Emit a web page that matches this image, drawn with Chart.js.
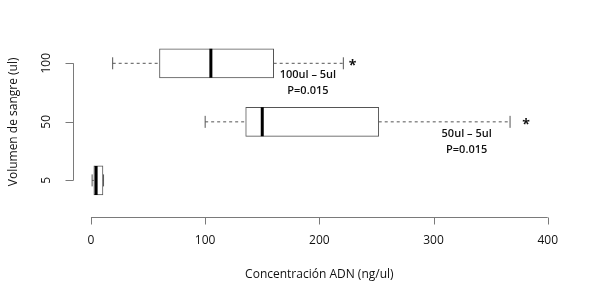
<!DOCTYPE html>
<html><head><meta charset="utf-8">
<script src="https://cdn.jsdelivr.net/npm/chart.js@4/dist/chart.umd.min.js"></script>
<style>html,body{margin:0;padding:0;background:#fff}#wrap{width:603px;height:300px;position:relative}</style>
</head><body><div id="wrap"><canvas id="c"></canvas></div>
<script>
// ---- data ----
const categories = ['100', '50', '5'];          // Volumen de sangre (ul)
const catPos = [3, 2, 1];                        // positions on the category axis (top to bottom)
const whiskerMin = [19, 100, 1];
const q1 = [60, 135.5, 2.5];
const median = [105, 150, 4.5];
const q3 = [160, 252, 10.5];
const whiskerMax = [221, 367, 11];
const xTickValues = [0, 100, 200, 300, 400];
const starX = [229, 381, null];                  // significance marker (*)
const annotLine1 = ['100ul – 5ul', '50ul – 5ul', null];
const annotLine2 = ['P=0.015', 'P=0.015', null];
const annotX = [190, 329, null];

const FONT = '"Open Sans", "Noto Sans", sans-serif';
const AXIS_COLOR = '#7a7a7a';
const BOX_COLOR = '#555555';

const datasets = [];
// medians
datasets.push({
  type: 'scatter', order: 0,
  data: categories.map((c, i) => ({x: median[i], y: catPos[i]})),
  pointStyle: 'line', rotation: 90, radius: 14.5, hoverRadius: 14.5,
  borderColor: '#000', borderWidth: 3, backgroundColor: '#000'
});
// whisker caps
datasets.push({
  type: 'scatter', order: 1,
  data: categories.flatMap((c, i) => [{x: whiskerMin[i], y: catPos[i]}, {x: whiskerMax[i], y: catPos[i]}]),
  pointStyle: 'line', rotation: 90, radius: 6, hoverRadius: 6,
  borderColor: BOX_COLOR, borderWidth: 1
});
// whiskers (dashed)
categories.forEach((c, i) => {
  [[whiskerMin[i], q1[i]], [q3[i], whiskerMax[i]]].forEach(seg => {
    datasets.push({
      type: 'line', order: 2,
      data: [{x: seg[0], y: catPos[i]}, {x: seg[1], y: catPos[i]}],
      borderColor: BOX_COLOR, borderWidth: 1, borderDash: [3, 3],
      pointRadius: 0, fill: false
    });
  });
});
// boxes
datasets.push({
  type: 'bar', order: 3, indexAxis: 'y',
  data: categories.map((c, i) => ({x: [q1[i], q3[i]], y: catPos[i]})),
  backgroundColor: '#ffffff', borderColor: BOX_COLOR, borderWidth: 1,
  borderSkipped: false, barThickness: 29
});

const rAxes = {
  id: 'rAxes',
  beforeDatasetsDraw(chart) {
    const {ctx, chartArea, scales: {x, y}} = chart;
    ctx.save();
    ctx.strokeStyle = AXIS_COLOR;
    ctx.lineWidth = 1;
    ctx.beginPath();
    // y axis
    const xl = Math.round(chartArea.left) + 0.5;
    const yTop = y.getPixelForValue(Math.max(...catPos));
    const yBot = y.getPixelForValue(Math.min(...catPos));
    ctx.moveTo(xl, yTop); ctx.lineTo(xl, yBot);
    catPos.forEach(v => { const p = Math.round(y.getPixelForValue(v)) + 0.5; ctx.moveTo(xl, p); ctx.lineTo(xl - 8, p); });
    // x axis
    const yb = Math.round(chartArea.bottom) + 0.5;
    ctx.moveTo(x.getPixelForValue(xTickValues[0]), yb);
    ctx.lineTo(x.getPixelForValue(xTickValues[xTickValues.length - 1]), yb);
    xTickValues.forEach(v => { const p = Math.round(x.getPixelForValue(v)) + 0.5; ctx.moveTo(p, yb); ctx.lineTo(p, yb + 7); });
    ctx.stroke();
    ctx.restore();
  },
  afterDatasetsDraw(chart) {
    const {ctx, scales: {x, y}} = chart;
    ctx.save();
    ctx.fillStyle = '#111';
    ctx.textAlign = 'center';
    ctx.textBaseline = 'middle';
    categories.forEach((c, i) => {
      const cy = y.getPixelForValue(catPos[i]);
      if (starX[i] !== null) {
        ctx.font = 'bold 14px ' + FONT;
        ctx.fillText('*', x.getPixelForValue(starX[i]), cy + 3);
      }
      if (annotLine1[i]) {
        ctx.font = '600 11px ' + FONT;
        ctx.fillText(annotLine1[i], x.getPixelForValue(annotX[i]), cy + 12);
        ctx.fillText(annotLine2[i], x.getPixelForValue(annotX[i]), cy + 28);
      }
    });
    ctx.restore();
  }
};

new Chart(document.getElementById('c'), {
  type: 'scatter',
  data: {datasets},
  options: {
    responsive: true, maintainAspectRatio: false, animation: false,
    layout: {padding: {top: 27, right: 37, bottom: 0, left: 0}},
    plugins: {legend: {display: false}, tooltip: {enabled: false}},
    events: [],
    scales: {
      x: {
        type: 'linear', min: -16, max: 416, offset: false,
        afterBuildTicks: s => { s.ticks = xTickValues.map(v => ({value: v})); },
        grid: {display: false, drawTicks: false}, border: {display: false},
        ticks: {font: {family: FONT, size: 12}, color: '#111', padding: 17, maxRotation: 0},
        title: {display: true, text: 'Concentración ADN (ng/ul)', font: {family: FONT, size: 12}, color: '#111', padding: {top: 0, bottom: 18}},
        afterFit: s => { s.height = 83.3; }
      },
      y: {
        type: 'linear', min: 0.38, max: 3.62, offset: false,
        afterBuildTicks: s => { s.ticks = catPos.map(v => ({value: v})); },
        grid: {display: false, drawTicks: false}, border: {display: false},
        ticks: {font: {family: FONT, size: 12}, color: '#111', padding: 16, minRotation: 90, maxRotation: 90, crossAlign: 'center',
          callback: v => categories[catPos.indexOf(v)]},
        title: {display: true, text: 'Volumen de sangre (ul)', font: {family: FONT, size: 12}, color: '#111', padding: {top: 6, bottom: 0}},
        afterFit: s => { s.width = 72.7; }
      }
    }
  },
  plugins: [rAxes]
});
</script>
</body></html>
